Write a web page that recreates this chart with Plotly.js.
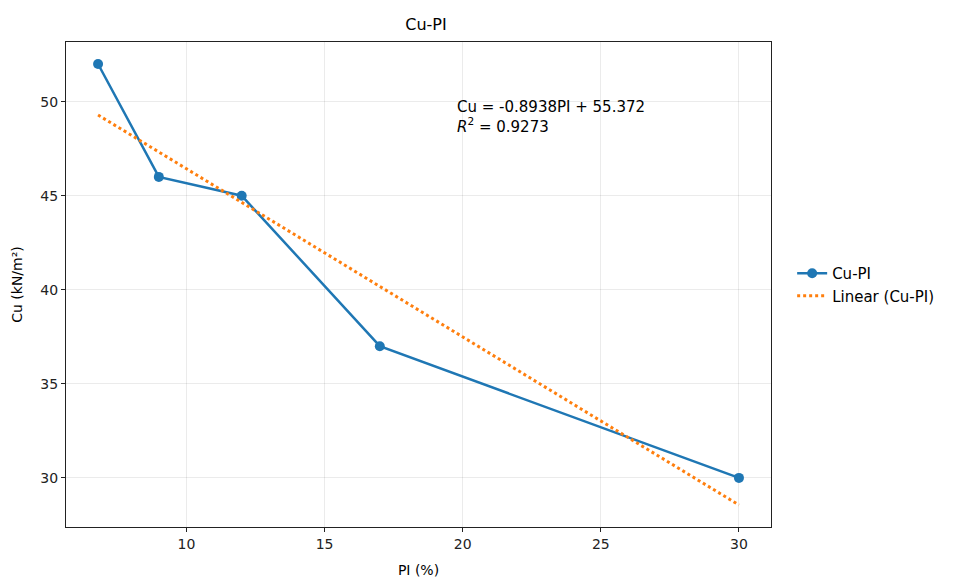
<!DOCTYPE html>
<html><head><meta charset="utf-8">
<script src="https://cdn.plot.ly/plotly-3.0.1.min.js"></script>
<style>body{margin:0;background:#fff}#c{width:954px;height:578px}</style>
</head><body><div id="c"></div>
<script>
const pi = [6.8, 9, 12, 17, 30];
const cu = [52, 46, 45, 37, 30];
const trendX = [6.8, 30];
const trendY = [49.29, 28.56];
const xTicks = [10, 15, 20, 25, 30];
const yTicks = [30, 35, 40, 45, 50];
const eqText = "Cu = -0.8938PI + 55.372<br><i>R</i><sup>2</sup> = 0.9273";

const font = {family: "DejaVu Sans", size: 14, color: "#000"};
const axis = {
  showline: true, linecolor: "#222", linewidth: 1.2, mirror: true,
  ticks: "outside", ticklen: 4, tickcolor: "#222", tickwidth: 1,
  showgrid: true, gridcolor: "rgba(0,0,0,0.08)", gridwidth: 1,
  zeroline: false, tickfont: {family: "DejaVu Sans", size: 14, color: "#222"}
};
const data = [
  {x: pi, y: cu, type: "scatter", mode: "lines+markers", name: "Cu-PI",
   line: {color: "#1f77b4", width: 2.5}, marker: {color: "#1f77b4", size: 10}},
  {x: trendX, y: trendY, type: "scatter", mode: "lines", name: "Linear (Cu-PI)",
   line: {color: "#ff7f0e", width: 3, dash: "dot"}}
];
const layout = {
  width: 954, height: 578,
  margin: {l: 66, r: 183, t: 42, b: 51},
  paper_bgcolor: "#fff", plot_bgcolor: "#fff",
  font: font,
  title: {text: "Cu-PI", font: {family: "DejaVu Sans", size: 16, color: "#000"}, x: 0.4465, xanchor: "center", y: 0.957, yanchor: "middle"},
  xaxis: Object.assign({}, axis, {range: [5.64, 31.16], tickvals: xTicks,
    title: {text: "PI (%)", font: {family: "DejaVu Sans", size: 14}, standoff: 14}}),
  yaxis: Object.assign({}, axis, {range: [27.39, 53.17], tickvals: yTicks,
    title: {text: "Cu (kN/m²)", font: {family: "DejaVu Sans", size: 14}, standoff: 14}}),
  showlegend: true,
  legend: {x: 1.03, y: 0.5, xanchor: "left", yanchor: "middle", font: {family: "DejaVu Sans", size: 15, color: "#000"}, bgcolor: "rgba(0,0,0,0)", tracegroupgap: 4},
  annotations: [{xref: "paper", yref: "paper", x: 0.552, y: 0.888, xanchor: "left", yanchor: "top",
    text: eqText, showarrow: false, align: "left", font: {family: "DejaVu Sans", size: 15, color: "#000"}}]
};
Plotly.newPlot("c", data, layout, {displayModeBar: false});
</script></body></html>
